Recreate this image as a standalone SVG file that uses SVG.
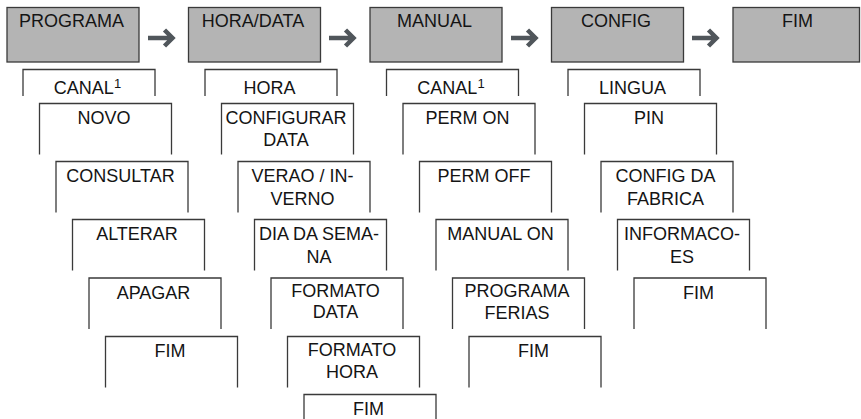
<svg xmlns="http://www.w3.org/2000/svg" width="861" height="419" viewBox="0 0 861 419">
<style>
.top{fill:#b4b4b4;stroke:#3a3a3a;stroke-width:1.3}
.sub{fill:none;stroke:#3a3a3a;stroke-width:1.3}
text{font-family:"Liberation Sans",Arial,Helvetica,sans-serif;font-size:18px;fill:#141414;text-anchor:middle}
.sup{font-size:13px}
.arr{fill:none;stroke:#50565b;stroke-width:4.5;stroke-linejoin:miter}
</style>
<rect width="861" height="419" fill="#fff"/>
<g id="programa"><rect class="top" x="7" y="7.5" width="132" height="54.5"/><text x="71.5" y="27">PROGRAMA</text></g>
<g id="horadata"><rect class="top" x="188.5" y="7.5" width="132" height="54.5"/><text x="253" y="27">HORA/DATA</text></g>
<g id="manual"><rect class="top" x="370" y="7.5" width="132" height="54.5"/><text x="434.5" y="27">MANUAL</text></g>
<g id="config"><rect class="top" x="551.5" y="7.5" width="132" height="54.5"/><text x="616" y="27">CONFIG</text></g>
<g id="fim"><rect class="top" x="733" y="7.5" width="126.5" height="54.5"/><text x="797.5" y="27">FIM</text></g>

<g id="connectors">
<path class="arr" d="M148,38 H171 M164.5,30 L172.5,38 L164.5,46"/>
<path class="arr" d="M329,38 H352 M345.5,30 L353.5,38 L345.5,46"/>
<path class="arr" d="M511,38 H534 M527.5,30 L535.5,38 L527.5,46"/>
<path class="arr" d="M692,38 H715 M708.5,30 L716.5,38 L708.5,46"/>
</g>

<!-- PROGRAMA column -->
<g id="p-canal"><path class="sub" d="M23,96 V69.5 H155 V96"/><text x="87.5" y="94">CANAL<tspan class="sup" dy="-6">1</tspan></text></g>
<g id="p-novo"><path class="sub" d="M39.5,154.5 V103.5 H171.5 V154.5"/><text x="104" y="124">NOVO</text></g>
<g id="p-consultar"><path class="sub" d="M56,212.5 V161.5 H188 V212.5"/><text x="120.5" y="182">CONSULTAR</text></g>
<g id="p-alterar"><path class="sub" d="M72.5,270.5 V219.5 H204.5 V270.5"/><text x="137" y="240">ALTERAR</text></g>
<g id="p-apagar"><path class="sub" d="M89,329 V278 H221 V329"/><text x="153.5" y="298.5">APAGAR</text></g>
<g id="p-fim"><path class="sub" d="M105.5,387.5 V336.5 H237.5 V387.5"/><text x="170" y="357">FIM</text></g>

<!-- HORA/DATA column -->
<g id="h-hora"><path class="sub" d="M205,96 V69.5 H337 V96"/><text x="269.5" y="94">HORA</text></g>
<g id="h-configurar"><path class="sub" d="M221.5,154.5 V103.5 H353.5 V154.5"/><text x="286" y="124">CONFIGURAR</text><text x="286" y="146">DATA</text></g>
<g id="h-verao"><path class="sub" d="M238,212.5 V161.5 H370 V212.5"/><text x="302.5" y="182">VERAO / IN-</text><text x="302.5" y="204.5">VERNO</text></g>
<g id="h-dia"><path class="sub" d="M254.5,270.5 V219.5 H386.5 V270.5"/><text x="319" y="240">DIA DA SEMA-</text><text x="319" y="262.5">NA</text></g>
<g id="h-formatodata"><path class="sub" d="M271,329 V278 H403 V329"/><text x="335.5" y="297">FORMATO</text><text x="335.5" y="318">DATA</text></g>
<g id="h-formatohora"><path class="sub" d="M287.5,387.5 V336.5 H419.5 V387.5"/><text x="352" y="356">FORMATO</text><text x="352" y="377.5">HORA</text></g>
<g id="h-fim"><path class="sub" d="M304,420 V394.5 H436 V420"/><text x="368.5" y="414.5">FIM</text></g>

<!-- MANUAL column -->
<g id="m-canal"><path class="sub" d="M386.5,96 V69.5 H518.5 V96"/><text x="451" y="94">CANAL<tspan class="sup" dy="-6">1</tspan></text></g>
<g id="m-permon"><path class="sub" d="M403,154.5 V103.5 H535 V154.5"/><text x="467.5" y="124">PERM ON</text></g>
<g id="m-permoff"><path class="sub" d="M419.5,212.5 V161.5 H551.5 V212.5"/><text x="484" y="182">PERM OFF</text></g>
<g id="m-manualon"><path class="sub" d="M436,270.5 V219.5 H568 V270.5"/><text x="500.5" y="240">MANUAL ON</text></g>
<g id="m-programaferias"><path class="sub" d="M452.5,329 V278 H584.5 V329"/><text x="517" y="297">PROGRAMA</text><text x="517" y="319">FERIAS</text></g>
<g id="m-fim"><path class="sub" d="M469,387.5 V336.5 H601 V387.5"/><text x="533.5" y="357">FIM</text></g>

<!-- CONFIG column -->
<g id="c-lingua"><path class="sub" d="M568,96 V69.5 H700 V96"/><text x="632.5" y="94">LINGUA</text></g>
<g id="c-pin"><path class="sub" d="M584.5,154.5 V103.5 H716.5 V154.5"/><text x="649" y="124">PIN</text></g>
<g id="c-fabrica"><path class="sub" d="M601,212.5 V161.5 H733 V212.5"/><text x="665.5" y="182">CONFIG DA</text><text x="665.5" y="205">FABRICA</text></g>
<g id="c-informacoes"><path class="sub" d="M617.5,270.5 V219.5 H749.5 V270.5"/><text x="682" y="240">INFORMACO-</text><text x="682" y="262.5">ES</text></g>
<g id="c-fim"><path class="sub" d="M634,329 V278 H766 V329"/><text x="698.5" y="298.5">FIM</text></g>
</svg>
